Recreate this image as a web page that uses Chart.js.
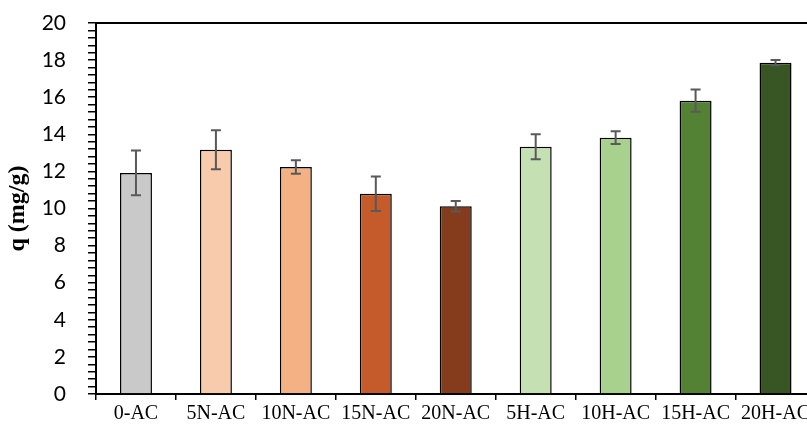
<!DOCTYPE html>
<html>
<head>
<meta charset="utf-8">
<script src="https://cdn.jsdelivr.net/npm/chart.js@4/dist/chart.umd.min.js"></script>
<style>
  html, body { margin: 0; padding: 0; background: #fff; overflow: hidden; }
  #wrap { width: 807px; height: 427px; overflow: hidden; }
</style>
</head>
<body>
<div id="wrap"><canvas id="c" width="840" height="427"></canvas></div>
<script>
// ---- data ----
const categories = ['0-AC', '5N-AC', '10N-AC', '15N-AC', '20N-AC', '5H-AC', '10H-AC', '15H-AC', '20H-AC'];
const qValues    = [11.92, 13.17, 12.24, 10.80, 10.12, 13.33, 13.82, 15.81, 17.86];
const qErrors    = [1.20, 1.05, 0.36, 0.93, 0.28, 0.67, 0.34, 0.60, 0.14];
const barColors  = ['#c9c9c9', '#f8cbad', '#f4b183', '#c55a2b', '#843c1c', '#c5e0b3', '#a9d18e', '#548235', '#375623'];
const yTitle = 'q (mg/g)';

// error bars drawn through the scales
const errorBars = {
  id: 'errorBars',
  afterDatasetsDraw(chart) {
    const { ctx, scales: { y } } = chart;
    const meta = chart.getDatasetMeta(0);
    ctx.save();
    ctx.strokeStyle = '#595959';
    ctx.lineWidth = 2;
    meta.data.forEach((bar, i) => {
      const v = qValues[i], e = qErrors[i];
      const yTop = y.getPixelForValue(v + e);
      const yBot = y.getPixelForValue(v - e);
      const x = bar.x;
      ctx.beginPath();
      ctx.moveTo(x, yTop); ctx.lineTo(x, yBot);
      ctx.moveTo(x - 5, yTop); ctx.lineTo(x + 5, yTop);
      ctx.moveTo(x - 5, yBot); ctx.lineTo(x + 5, yBot);
      ctx.stroke();
    });
    ctx.restore();
  }
};

// top border of plot area
const topBorder = {
  id: 'topBorder',
  afterDraw(chart) {
    const { ctx, chartArea } = chart;
    ctx.save();
    ctx.strokeStyle = '#000';
    ctx.lineWidth = 2;
    ctx.beginPath();
    ctx.moveTo(chartArea.left, chartArea.top);
    ctx.lineTo(chartArea.right, chartArea.top);
    ctx.stroke();
    ctx.restore();
  }
};

new Chart(document.getElementById('c'), {
  type: 'bar',
  data: {
    labels: categories,
    datasets: [{
      data: qValues,
      backgroundColor: barColors,
      borderColor: '#000',
      borderWidth: 1.5,
      categoryPercentage: 1,
      barPercentage: 0.4,
    }]
  },
  options: {
    responsive: false,
    animation: false,
    layout: { padding: { top: 23, left: 3, right: 24.5, bottom: 0 } },
    plugins: { legend: { display: false }, tooltip: { enabled: false } },
    scales: {
      x: {
        grid: { drawOnChartArea: false, drawTicks: true, tickLength: 6, color: '#000', lineWidth: 1.5, offset: true },
        border: { display: true, color: '#000', width: 2 },
        ticks: { color: '#000', padding: 2, maxRotation: 0, autoSkip: false, font: { family: 'Liberation Serif', size: 20 } },
        afterFit(s) { s.height = 33; s.paddingLeft = 0; s.paddingRight = 0; }
      },
      y: {
        min: 0, max: 20,
        grid: { drawOnChartArea: false, drawTicks: true, tickLength: 8, color: '#000', lineWidth: 1.5 },
        border: { display: true, color: '#000', width: 2 },
        ticks: {
          stepSize: 0.4, maxTicksLimit: 100, autoSkip: false, color: '#000', padding: 22,
          font: { family: 'Lato', size: 21 },
          callback: v => (Math.abs(v / 2 - Math.round(v / 2)) < 1e-6 ? Math.round(v) : '')
        },
        title: {
          display: true, text: yTitle, color: '#000', padding: { top: 0, bottom: 0 },
          font: { family: 'Liberation Serif', size: 24, weight: 'bold' }
        },
        afterFit(s) { s.width = 93; s.paddingTop = 0; s.paddingBottom = 0; }
      }
    }
  },
  plugins: [errorBars, topBorder]
});
</script>
</body>
</html>
